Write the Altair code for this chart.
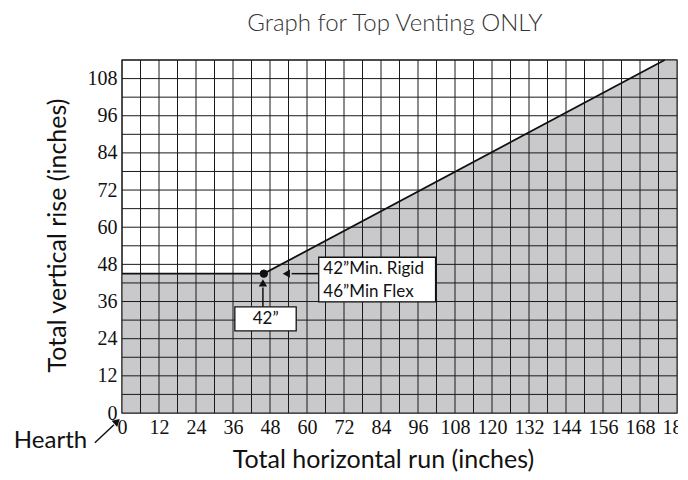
import altair as alt
import pandas as pd

# grid / tick values (inches)
x_grid = list(range(0, 181, 6))
y_grid = list(range(0, 115, 6))
x_labels = list(range(0, 181, 12))
y_labels = list(range(0, 109, 12))

# shaded region boundary and limit line
region_x = [0, 46, 176, 180]
region_y = [45, 45, 114, 114]
line_x = [0, 46, 176]
line_y = [45, 45, 114]
dot_x = [46]
dot_y = [45]

# annotation boxes (data units)
box_x = [63.8, 36.6]
box_x2 = [101.7, 56.5]
box_y = [50.3, 34.3]
box_y2 = [35.9, 26.5]
note_text = ["42\u201dMin. Rigid", "46\u201dMin Flex"]
note_x = [65.3, 65.3]
note_y = [46.4, 39.0]
label_text = ["42\u201d"]
label_x = [46.6]
label_y = [30.4]

# arrows
arrow_x = [63.8, 45.7, -8.8]
arrow_x2 = [55.0, 45.7, -2.6]
arrow_y = [45.0, 34.3, -9.6]
arrow_y2 = [45.0, 40.5, -3.8]
head_x = [53.3, 45.7, -1.6]
head_y = [45.0, 42.0, -2.7]
head_shape = ["triangle-left", "triangle-up", "triangle-up"]
head_angle = [0, 0, 48]

hearth_text = ["Hearth"]
hearth_x = [-11.3]
hearth_y = [-9.2]

title_text = ["Graph for Top Venting ONLY"]
title_x = [88.5]
title_y = [125.6]

X_DOM = [0, 180]
Y_DOM = [0, 114]
xs = alt.Scale(domain=X_DOM, nice=False, zero=False)
ys = alt.Scale(domain=Y_DOM, nice=False, zero=False)

tick_font = "Liberation Serif"
sans = "Lato"

W, H = 555, 353

X = lambda: alt.X("x:Q", scale=xs, axis=alt.Axis(
    values=x_labels, title="Total horizontal run (inches)",
    titleX=261, titleY=46))
Y = lambda: alt.Y("y:Q", scale=ys, axis=alt.Axis(
    values=y_labels, title="Total vertical rise (inches)",
    titleX=-65, titleY=175, titleAngle=-90))

region = pd.DataFrame({"x": region_x, "y": region_y})
area = alt.Chart(region).mark_area(fill="#c9c9cb", fillOpacity=1).encode(
    x=X(), y=Y(), y2=alt.datum(0))

vgrid = alt.Chart(pd.DataFrame({"x": x_grid})).mark_rule(
    color="#1a1a1a", strokeWidth=1).encode(x=X())
hgrid = alt.Chart(pd.DataFrame({"y": y_grid})).mark_rule(
    color="#1a1a1a", strokeWidth=1).encode(y=Y())

limit = alt.Chart(pd.DataFrame({"x": line_x, "y": line_y})).mark_line(
    color="#111", strokeWidth=1.8).encode(x=X(), y=Y())

boxes = alt.Chart(pd.DataFrame({"x": box_x, "x2": box_x2, "y": box_y, "y2": box_y2})).mark_rect(
    fill="white", stroke="#111", strokeWidth=1.3).encode(
    x=X(), x2="x2:Q", y=Y(), y2="y2:Q")

notes = alt.Chart(pd.DataFrame({"x": note_x, "y": note_y, "t": note_text})).mark_text(
    font=sans, fontSize=17, color="#111", baseline="middle", align="left").encode(
    x=X(), y=Y(), text="t:N")

labels = alt.Chart(pd.DataFrame({"x": label_x, "y": label_y, "t": label_text})).mark_text(
    font=sans, fontSize=17, color="#111", baseline="middle", align="center").encode(
    x=X(), y=Y(), text="t:N")

arrows = alt.Chart(pd.DataFrame({"x": arrow_x, "x2": arrow_x2, "y": arrow_y, "y2": arrow_y2})).mark_rule(
    color="#111", strokeWidth=1.5).encode(
    x=X(), x2="x2:Q", y=Y(), y2="y2:Q")

heads = alt.Chart(pd.DataFrame({"x": head_x, "y": head_y, "s": head_shape, "a": head_angle})).mark_point(
    filled=True, color="#111", size=70, opacity=1).encode(
    x=X(), y=Y(),
    shape=alt.Shape("s:N", scale=None), angle=alt.Angle("a:Q", scale=None))

dot = alt.Chart(pd.DataFrame({"x": dot_x, "y": dot_y})).mark_circle(
    color="#111", size=55, opacity=1, stroke="#111", strokeWidth=1).encode(
    x=X(), y=Y())

hearth = alt.Chart(pd.DataFrame({"x": hearth_x, "y": hearth_y, "t": hearth_text})).mark_text(
    font=sans, fontSize=24, color="#111", align="right", baseline="middle").encode(
    x=X(), y=Y(), text="t:N")

title = alt.Chart(pd.DataFrame({"x": title_x, "y": title_y, "t": title_text})).mark_text(
    font=sans, fontSize=24, fontWeight=300, color="#333", align="center", baseline="middle").encode(
    x=X(), y=Y(), text="t:N")

chart = alt.layer(area, vgrid, hgrid, limit, boxes, notes, labels, arrows, heads, dot, hearth, title).properties(
    width=W, height=H,
    background="white",
    autosize=alt.AutoSizeParams(type="none"),
    padding={"left": 114, "top": 52, "right": 1, "bottom": 59},
).configure_axis(
    grid=False, domain=False, ticks=False,
    labelFont=tick_font, labelFontSize=20, labelColor="#111",
    labelOverlap=False, labelFlush=False,
    titleFont=sans, titleFontSize=25, titleFontWeight="normal", titleColor="#111",
    titleBaseline="middle", titleAlign="center",
).configure_axisX(labelPadding=4).configure_axisY(labelPadding=5
).configure_view(stroke="#555", strokeWidth=1.5)

chart.save("out.html", embed_options={"renderer": "svg", "actions": False})
